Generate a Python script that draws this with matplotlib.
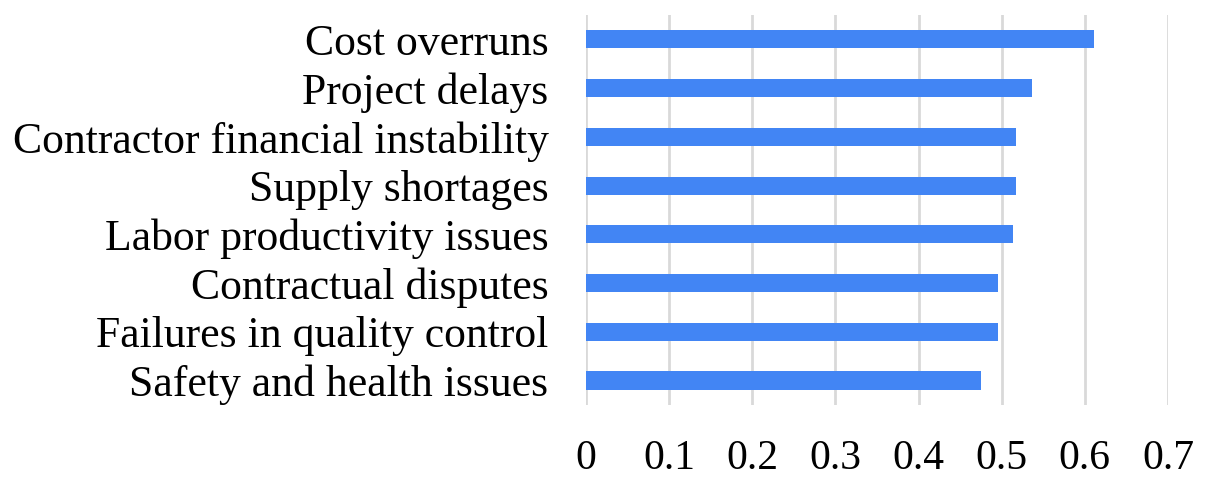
import matplotlib
matplotlib.use('Agg')
import matplotlib.pyplot as plt

# Risk factors, top to bottom as shown
categories = ['Cost overruns', 'Project delays', 'Contractor financial instability',
              'Supply shortages', 'Labor productivity issues', 'Contractual disputes',
              'Failures in quality control', 'Safety and health issues']
scores = [0.611, 0.537, 0.517, 0.517, 0.514, 0.495, 0.495, 0.475]
x_ticks = [0, 0.1, 0.2, 0.3, 0.4, 0.5, 0.6, 0.7]
x_tick_labels = ['0', '0.1', '0.2', '0.3', '0.4', '0.5', '0.6', '0.7']

plt.rcParams['font.family'] = ['Liberation Serif', 'DejaVu Serif']

fig = plt.figure(figsize=(12.1, 4.82), dpi=100)
ax = fig.add_axes([0.4843, 0.16, 0.4810, 0.809])

ypos = list(range(len(categories)))
ax.barh(ypos, scores, height=0.37, color='#4285f4', zorder=3)

ax.set_xlim(0, 0.7)
ax.set_ylim(len(categories) - 0.5, -0.5)
ax.set_xticks(x_ticks)
ax.set_xticklabels(x_tick_labels)
ax.set_yticks(ypos)
ax.set_yticklabels(categories)

ax.grid(axis='x', color='#d9d9d9', linewidth=2, zorder=0)
for side in ['top', 'right', 'bottom', 'left']:
    ax.spines[side].set_visible(False)

ax.tick_params(axis='y', length=0, pad=27, labelsize=31.5)
ax.tick_params(axis='x', length=0, pad=25, labelsize=30)

fig.savefig('out.png', dpi=100, facecolor='white')
plt.close(fig)
